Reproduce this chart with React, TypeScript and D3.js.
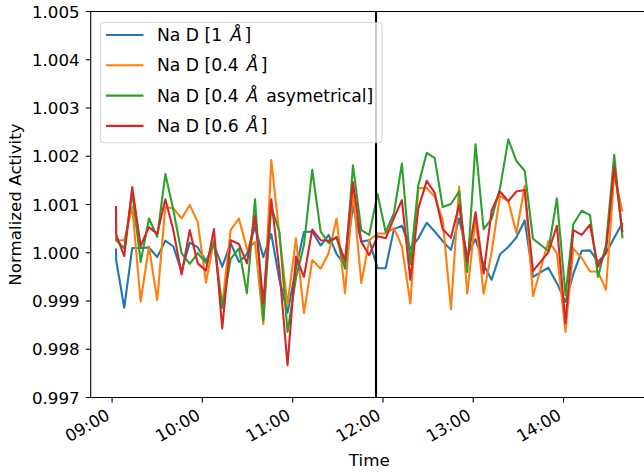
import React from "react";
import * as d3 from "d3";

// ---- data ----
const times = [
  "09:02:36", "09:02:45", "09:08:06", "09:13:24", "09:19:00", "09:24:30", "09:30:00", "09:35:24",
  "09:40:42", "09:46:12", "09:51:36", "09:56:54", "10:02:24", "10:07:42", "10:13:12", "10:18:48",
  "10:24:18", "10:29:36", "10:35:00", "10:40:30", "10:45:48", "10:51:12", "10:56:36", "11:02:12",
  "11:07:30", "11:13:00", "11:18:36", "11:23:54", "11:29:12", "11:34:48", "11:40:06", "11:45:36",
  "11:50:54", "11:56:24", "12:01:48", "12:07:18", "12:12:36", "12:18:12", "12:23:30", "12:29:06",
  "12:34:24", "12:39:42", "12:45:12", "12:50:36", "12:56:00", "13:01:30", "13:06:54", "13:12:12",
  "13:17:48", "13:23:18", "13:28:42", "13:34:12", "13:39:42", "13:49:54", "13:55:36", "14:01:18",
  "14:06:30", "14:12:06", "14:17:36", "14:22:54", "14:28:12", "14:33:42", "14:39:12",
];

const naD1 = [
  1.00009, 0.99984, 0.99886, 1.0001, 1.0001, 1.00011, 0.99991, 1.00025, 1.00013, 0.99961, 1.00021,
  1.00011, 0.99983, 1.00016, 0.99971, 1.0002, 0.99981, 0.99997, 1.00054, 0.99991, 1.00039, 0.99944,
  0.99876, 0.99968, 1.00043, 1.00044, 1.00015, 1.00037, 0.99997, 0.99975, 1.00097, 1.00023, 1.00026,
  0.99968, 0.99968, 1.00049, 1.00056, 1.00008, 1.0003, 1.00062, 1.00044, 1.00024, 1.00006, 1.00071,
  0.99995, 1.00028, 0.99975, 0.99944, 0.99997, 1.00012, 1.00032, 1.00067, 0.9995, 0.99969, 0.99937,
  0.99898, 0.99956, 1.00004, 1.00005, 0.99981, 0.99999, 1.00031, 1.00062,
];

const naD04 = [
  1.00092, 1.00026, 1.00026, 1.00095, 0.99899, 1.00013, 0.99902, 1.00095, 1.00092, 1.00071, 1.00099,
  1.00064, 0.99938, 1.00026, 0.9989, 1.00047, 1.00071, 1.00008, 1.00022, 0.99852, 1.00192, 1.00037,
  0.99892, 1.0003, 0.99875, 0.99985, 0.99967, 0.99999, 1.00071, 0.99916, 1.00128, 0.99937, 1.00026,
  1.0004, 1.0004, 1.00051, 1.00013, 0.99895, 1.00134, 1.00134, 1.00116, 1.00068, 0.99883, 1.00137,
  0.99915, 1.00072, 0.99915, 1.00001, 1.00118, 1.00107, 1.00041, 1.00139, 0.9991, 1.00024, 0.99999,
  0.99836, 1.00009, 0.99989, 0.99961, 0.99961, 0.99923, 1.00163, 1.00085,
];

const naD04asym = [
  1.0003, 1.00026, 1.00009, 1.00125, 0.99981, 1.00071, 1.00033, 1.00163, 1.00089, 0.99999, 0.99977,
  0.99999, 0.99979, 1.00022, 0.99885, 0.99987, 1.00009, 0.99916, 1.00111, 0.99859, 1.00095, 1.00043,
  0.99836, 0.99948, 1.00016, 1.00172, 1.00044, 1.0002, 1.00033, 0.99967, 1.00181, 1.00047, 1.00037,
  1.00122, 1.00043, 1.00082, 1.00185, 0.99977, 1.0014, 1.00207, 1.00196, 1.00095, 1.00101, 1.00127,
  0.9996, 1.00225, 1.00049, 1.0007, 1.00134, 1.00235, 1.0019, 1.0017, 1.00029, 1.00004, 1.00113,
  0.99912, 1.00059, 1.00087, 1.00078, 0.9995, 1.00016, 1.00203, 1.0003,
];

const naD06 = [
  1.00097, 1.00037, 0.99993, 1.00136, 1.00014, 1.00053, 1.00039, 1.00111, 1.00047, 0.99955, 1.00047,
  0.99978, 0.99963, 1.00049, 0.99843, 1.00026, 1.00018, 0.99978, 1.00076, 0.99896, 1.00111, 0.99964,
  0.99767, 0.99992, 0.9995, 1.00048, 1.00026, 1.00025, 1.00031, 0.99984, 1.00146, 1.00023, 0.99995,
  1.00034, 1.0003, 1.00072, 1.00109, 0.99944, 1.00092, 1.00149, 1.00124, 1.00049, 1.00031, 1.00099,
  0.99981, 1.00084, 0.99957, 1.00087, 1.00127, 1.00107, 1.00127, 1.0013, 0.99962, 1.00001, 1.00056,
  0.99854, 1.00047, 1.00037, 1.00058, 0.99971, 1.00002, 1.00179, 1.00042,
];

const seriesLabels = ["Na D [1 Å]", "Na D [0.4 Å]", "Na D [0.4 Å asymetrical]", "Na D [0.6 Å]"];
const seriesColors = ["#1f77b4", "#ff7f0e", "#2ca02c", "#d62728"];
const xTickLabels = ["09:00", "10:00", "11:00", "12:00", "13:00", "14:00"];
const yTicks = [0.997, 0.998, 0.999, 1.0, 1.001, 1.002, 1.003, 1.004, 1.005];
const markerTime = "11:55:24";
const xDomain = ["08:45:48", "14:56:00"];

const FONT = "DejaVu Sans, Verdana, sans-serif";
const FS = 16.7;
const LFS = 17.2;

function LegendLabel({ text, x, y }: { text: string; x: number; y: number }) {
  const parts = text.split("Å");
  return (
    <text x={x} y={y} fontSize={LFS} fontFamily={FONT} fill="#000">
      {parts.map((p, i) => (
        <React.Fragment key={i}>
          <tspan dx={i > 0 ? 2.5 : 0}>{p}</tspan>
          {i < parts.length - 1 && (
            <tspan dx={2.5} fontStyle="italic">
              Å
            </tspan>
          )}
        </React.Fragment>
      ))}
    </text>
  );
}

export default function App() {
  const W = 644;
  const H = 472;
  const left = 90.7;
  const right = 647.8;
  const top = 11.5;
  const bottom = 397.5;

  const parse = d3.timeParse("%H:%M:%S");
  const dates = times.map((t) => parse(t) as Date);
  const x = d3
    .scaleTime()
    .domain([parse(xDomain[0]) as Date, parse(xDomain[1]) as Date])
    .range([left, right]);
  const y = d3.scaleLinear().domain([0.997, 1.005]).range([bottom, top]);

  const line = d3
    .line<number>()
    .x((_, i) => x(dates[i]))
    .y((d) => y(d));

  const series = [naD1, naD04, naD04asym, naD06];
  const fmt = d3.format(".3f");
  const markerX = x(parse(markerTime) as Date);

  const legendX = 100.5;
  const legendY = 22.5;
  const legendW = 281.5;
  const legendH = 120.3;
  const rowY = [35, 65.3, 95.6, 125.9];

  return (
    <svg
      width={W}
      height={H}
      style={{ position: "absolute", left: 0, top: 0, background: "#fff" }}
    >
      <defs>
        <clipPath id="plotclip">
          <rect x={left} y={top} width={right - left} height={bottom - top} />
        </clipPath>
      </defs>
      <rect x={0} y={0} width={W} height={H} fill="#fff" />

      <g clipPath="url(#plotclip)">
        {series.map((s, k) => (
          <path
            key={k}
            d={line(s) || ""}
            fill="none"
            stroke={seriesColors[k]}
            strokeWidth={2.1}
            strokeLinejoin="round"
            strokeLinecap="butt"
          />
        ))}
        <line x1={markerX} x2={markerX} y1={top} y2={bottom} stroke="#000" strokeWidth={2.1} />
      </g>

      {/* spines */}
      <line x1={left} x2={left} y1={top} y2={bottom} stroke="#000" strokeWidth={1.1} />
      <line x1={left} x2={right} y1={bottom} y2={bottom} stroke="#000" strokeWidth={1.1} />
      <line x1={left} x2={right} y1={top} y2={top} stroke="#000" strokeWidth={1.1} />
      <line x1={right} x2={right} y1={top} y2={bottom} stroke="#000" strokeWidth={1.1} />

      {/* y ticks */}
      {yTicks.map((t) => (
        <g key={t}>
          <line x1={left - 4.9} x2={left} y1={y(t)} y2={y(t)} stroke="#000" strokeWidth={1.1} />
          <text
            x={left - 11}
            y={y(t) + 6}
            fontSize={FS}
            fontFamily={FONT}
            textAnchor="end"
            fill="#000"
          >
            {fmt(t)}
          </text>
        </g>
      ))}

      {/* x ticks */}
      {xTickLabels.map((lab) => {
        const tx = x(parse(lab + ":00") as Date);
        return (
          <g key={lab}>
            <line x1={tx} x2={tx} y1={bottom} y2={bottom + 4.9} stroke="#000" strokeWidth={1.1} />
            <text
              transform={`translate(${tx - 1},${bottom + 21}) rotate(-30)`}
              fontSize={FS}
              fontFamily={FONT}
              textAnchor="end"
              fill="#000"
            >
              {lab}
            </text>
          </g>
        );
      })}

      {/* axis labels */}
      <text
        x={(left + right) / 2}
        y={466}
        fontSize={FS}
        fontFamily={FONT}
        textAnchor="middle"
        fill="#000"
      >
        Time
      </text>
      <text
        transform={`translate(21,${(top + bottom) / 2}) rotate(-90)`}
        fontSize={FS}
        fontFamily={FONT}
        textAnchor="middle"
        fill="#000"
      >
        Normalized Activity
      </text>

      {/* legend */}
      <rect
        x={legendX}
        y={legendY}
        width={legendW}
        height={legendH}
        rx={3.5}
        ry={3.5}
        fill="#fff"
        fillOpacity={0.8}
        stroke="#cccccc"
        strokeOpacity={0.8}
        strokeWidth={1.1}
      />
      {seriesLabels.map((lab, k) => (
        <g key={lab}>
          <line
            x1={106}
            x2={143.5}
            y1={rowY[k]}
            y2={rowY[k]}
            stroke={seriesColors[k]}
            strokeWidth={2.1}
          />
          <LegendLabel text={lab} x={157} y={rowY[k] + 6} />
        </g>
      ))}
    </svg>
  );
}
